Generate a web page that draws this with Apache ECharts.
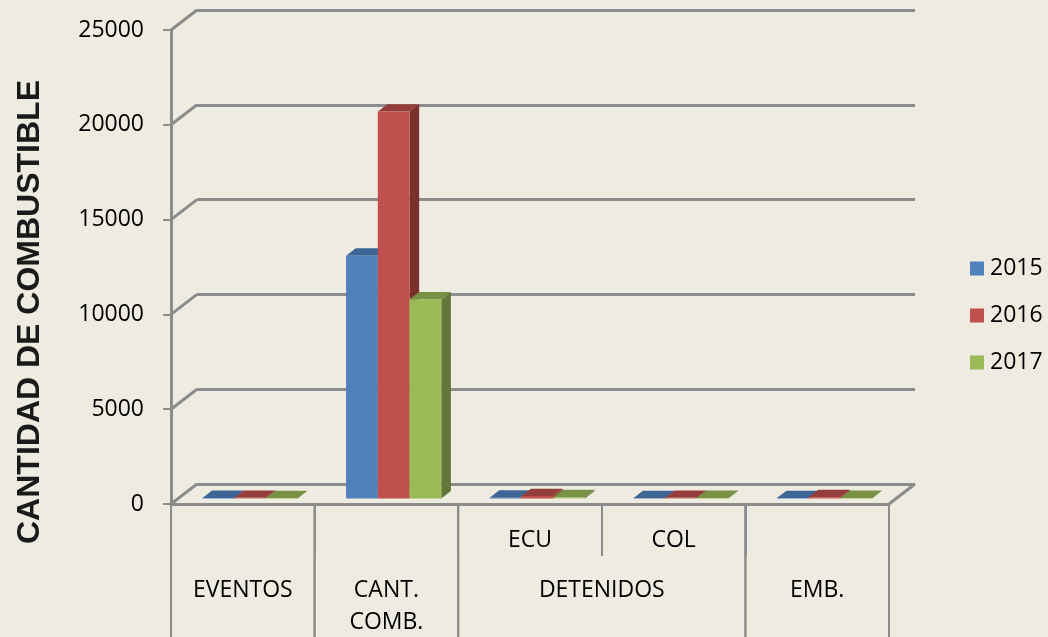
<!DOCTYPE html>
<html>
<head>
<meta charset="utf-8">
<script src="https://cdn.jsdelivr.net/npm/echarts@6/dist/echarts.min.js"></script>
<style>
  html, body { margin: 0; padding: 0; background: #eeece1; }
  #main { width: 1048px; height: 637px; }
</style>
</head>
<body>
<div id="main"></div>
<script>
var categories = ['EVENTOS', 'CANT. COMB.', 'ECU', 'COL', 'EMB.'];
var subLabels = ['', '', 'ECU', 'COL', ''];
var groupLabels = ['EVENTOS', 'CANT.\nCOMB.', 'DETENIDOS', 'EMB.'];
var groupStart = [0, 1, 2, 4];
var groupEnd = [0, 1, 3, 4];
var years = ['2015', '2016', '2017'];
var v2015 = [20, 12800, 40, 10, 15];
var v2016 = [30, 20400, 120, 30, 60];
var v2017 = [15, 10500, 60, 20, 25];
var yTicks = [0, 5000, 10000, 15000, 20000, 25000];

(function() {
    var chart = echarts.init(document.getElementById('main'));
    // depth vector: back wall -> front plane
    var DX = -26, DY = 20;
    var T_FRONT = 0.28, T_BACK = 0.65;
    var lineColor = '#8c8c8c';
    var font = '"Open Sans", sans-serif';

    var faces = [
        {front: '#4f81bd', top: '#3d6596', side: '#34557e'},
        {front: '#c0504d', top: '#953d3b', side: '#7b2f2d'},
        {front: '#9bbb59', top: '#789145', side: '#637838'}
    ];

    function barRender(j) {
        return function(params, api) {
            var i = api.value(0), v = api.value(1);
            var band = api.size([1, 0])[0];
            var c = api.coord([i, 0]);
            var top = api.coord([i, v])[1];
            var base = c[1];
            var bw = band * 0.221;
            var x0 = c[0] - 1.5 * bw + j * bw, x1 = x0 + bw;
            var fx = DX * (1 - T_FRONT), fy = DY * (1 - T_FRONT);
            var bx = DX * (1 - T_BACK), by = DY * (1 - T_BACK);
            var f = faces[j];
            return {
                type: 'group',
                children: [
                    {type: 'polygon', shape: {points: [[x1 + fx, top + fy], [x1 + bx, top + by], [x1 + bx, base + by], [x1 + fx, base + fy]]},
                        style: {fill: f.side}},
                    {type: 'polygon', shape: {points: [[x0 + fx, top + fy], [x0 + bx, top + by], [x1 + bx, top + by], [x1 + fx, top + fy]]},
                        style: {fill: f.top}},
                    {type: 'polygon', shape: {points: [[x0 + fx, top + fy], [x1 + fx, top + fy], [x1 + fx, base + fy], [x0 + fx, base + fy]]},
                        style: {fill: f.front}}
                ]
            };
        };
    }

    var values = [v2015, v2016, v2017];
    var barSeries = years.map(function(y, j) {
        return {
            name: y,
            type: 'custom',
            xAxisIndex: 0,
            yAxisIndex: 0,
            clip: false,
            itemStyle: {color: faces[j].front},
            renderItem: barRender(j),
            encode: {x: 0, y: 1},
            data: values[j].map(function(v, i) { return [i, v]; }),
            z: 5
        };
    });

    option = {
        backgroundColor: '#eeece1',
        animation: false,
        grid: [
            {left: 197, top: 10, right: 133, bottom: 153},
            {left: 171, top: 30, right: 159, bottom: 133}
        ],
        legend: {
            orient: 'vertical',
            left: 970,
            top: 257,
            padding: 0,
            itemWidth: 14,
            itemHeight: 14,
            itemGap: 24,
            icon: 'rect',
            textStyle: {fontFamily: font, fontSize: 23, color: '#000', lineHeight: 23, padding: [0, 0, 0, 1]},
            data: years
        },
        xAxis: [
            {type: 'category', gridIndex: 0, data: categories, show: false},
            {
                type: 'category', gridIndex: 1, data: categories,
                axisLine: {show: true, lineStyle: {color: lineColor, width: 3}},
                axisTick: {show: true, interval: 0, length: 52, lineStyle: {color: lineColor, width: 2}},
                axisLabel: {
                    interval: 0, margin: 25, fontFamily: font, fontSize: 23, color: '#000', lineHeight: 23,
                    formatter: function(val, idx) { return subLabels[idx]; }
                }
            }
        ],
        yAxis: [
            {
                type: 'value', gridIndex: 0, min: 0, max: 25000, interval: 5000,
                axisLine: {show: false}, axisTick: {show: false}, axisLabel: {show: false},
                splitLine: {show: true, lineStyle: {color: lineColor, width: 3}}
            },
            {
                type: 'value', gridIndex: 1, min: 0, max: 25000, interval: 5000,
                axisLine: {show: true, lineStyle: {color: lineColor, width: 3}},
                axisTick: {show: true, length: 8, lineStyle: {color: lineColor, width: 2}},
                axisLabel: {margin: 27, fontFamily: font, fontSize: 23, color: '#000',
                    formatter: function(v) { return String(v); }},
                splitLine: {show: false}
            }
        ],
        graphic: [{
            type: 'text',
            x: 30,
            y: 312,
            rotation: Math.PI / 2,
            style: {
                text: 'CANTIDAD DE COMBUSTIBLE',
                font: 'bold 32px "Liberation Sans", Arial, sans-serif',
                fill: '#1a1a1a',
                textAlign: 'center',
                textVerticalAlign: 'middle'
            }
        }],
        series: [
            {
                name: 'frame',
                type: 'custom',
                xAxisIndex: 0,
                yAxisIndex: 0,
                clip: false,
                data: yTicks.map(function(v) { return [0, v]; }),
                encode: {x: 0, y: 1},
                renderItem: function(params, api) {
                    var cs = params.coordSys;
                    var y = api.coord([0, api.value(1)])[1];
                    var style = {stroke: lineColor, lineWidth: 3};
                    var kids = [{type: 'line', shape: {x1: cs.x, y1: y, x2: cs.x + DX, y2: y + DY}, style: style}];
                    if (api.value(1) === 0) {
                        kids.push({type: 'line', shape: {x1: cs.x + cs.width, y1: y, x2: cs.x + cs.width + DX, y2: y + DY}, style: style});
                    }
                    return {type: 'group', children: kids};
                },
                z: 3
            },
            {
                name: 'groups',
                type: 'custom',
                xAxisIndex: 1,
                yAxisIndex: 1,
                clip: false,
                data: groupStart.map(function(s, k) { return [s, groupEnd[k]]; }),
                encode: {x: 0},
                renderItem: function(params, api) {
                    var band = api.size([1, 0])[0];
                    var xl = api.coord([api.value(0), 0])[0] - band / 2;
                    var xr = api.coord([api.value(1), 0])[0] + band / 2;
                    var y0 = api.coord([api.value(0), 0])[1];
                    var style = {stroke: lineColor, lineWidth: 2};
                    return {
                        type: 'group',
                        children: [
                            {type: 'line', shape: {x1: xl, y1: y0, x2: xl, y2: y0 + 140}, style: style},
                            {type: 'line', shape: {x1: xr, y1: y0, x2: xr, y2: y0 + 140}, style: style},
                            {type: 'text', x: (xl + xr) / 2, y: y0 + 70,
                                style: {text: groupLabels[params.dataIndex], fontFamily: font, fontSize: 23,
                                    lineHeight: 32, fill: '#000', textAlign: 'center', textVerticalAlign: 'top'}}
                        ]
                    };
                },
                z: 3
            }
        ].concat(barSeries)
    };
    chart.setOption(option);
})();
</script>
</body>
</html>
